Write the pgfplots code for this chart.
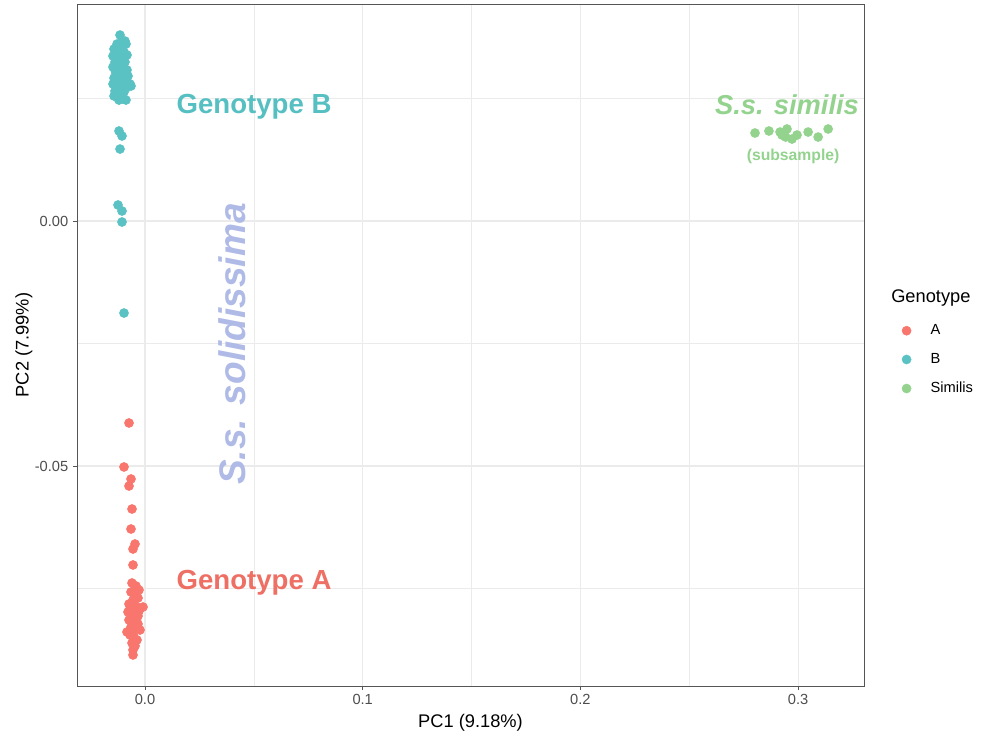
\documentclass[border=0pt]{standalone}
\usepackage{pgfplots}
\pgfplotsset{compat=1.18}
\usepackage{fontspec}
\setmainfont{Liberation Sans}
\definecolor{colA}{HTML}{F8766D}
\definecolor{colB}{HTML}{5BC2C4}
\definecolor{colS}{HTML}{93D38E}
\definecolor{colSol}{HTML}{AFBAE6}
\definecolor{txtA}{HTML}{EE6F64}
\definecolor{txtB}{HTML}{55BFC1}
\definecolor{gridgray}{HTML}{EBEBEB}
\definecolor{bordergray}{HTML}{555555}
\definecolor{ticklab}{HTML}{4D4D4D}
\begin{document}
\begin{tikzpicture}
\path[use as bounding box] (0,0) rectangle (737.25pt,549pt);
\begin{axis}[
  at={(57.75pt,34.5pt)}, anchor=south west,
  scale only axis, width=590.25pt, height=511.5pt,
  xmin=-0.03124, xmax=0.33027, ymin=-0.0949, ymax=0.04429,
  xtick={0,0.1,0.2,0.3}, xticklabels={0.0,0.1,0.2,0.3},
  ytick={-0.05,0}, yticklabels={{-0.05},{0.00}},
  minor xtick={0.05,0.15,0.25}, minor ytick={-0.075,-0.025,0.025},
  grid=both,
  major grid style={color=gridgray, line width=0.8pt},
  minor grid style={color=gridgray, line width=0.45pt},
  axis line style={color=bordergray, line width=0.6pt},
  tick align=outside, xtick pos=bottom, ytick pos=left,
  major tick length=3pt, minor tick length=0pt,
  tick style={color=bordergray, line width=0.6pt},
  tick label style={font=\fontsize{11}{13}\selectfont, text=ticklab},
  xlabel={PC1 (9.18\%)}, ylabel={PC2 (7.99\%)},
  label style={font=\fontsize{13.7}{16}\selectfont},
  ylabel style={yshift=-5pt},
  legend image code/.code={\path (0pt,0pt) (22.75pt,0pt); \draw[#1] plot coordinates {(7pt,0pt)};},
  legend style={at={(axis description cs:1.0365,0.538)}, anchor=north west, draw=none, fill=none,
    font=\fontsize{11}{13}\selectfont, row sep=8.5pt},
  legend cell align=left,
]
\addplot[only marks, mark=*, mark size=3.4pt, color=colA, mark options={fill=colA, draw=colA}] coordinates {
(-0.00735,-0.04122) (-0.00965,-0.05020) (-0.00643,-0.05265) (-0.00735,-0.05408)
(-0.00597,-0.05878) (-0.00643,-0.06286) (-0.00459,-0.06592) (-0.00551,-0.06694)
(-0.00551,-0.07020) (-0.00597,-0.07388) (-0.00413,-0.07449) (-0.00276,-0.07531)
(-0.00643,-0.07571) (-0.00459,-0.07633) (-0.00322,-0.07694) (-0.00551,-0.07735)
(-0.00735,-0.07816) (-0.00505,-0.07816) (-0.00367,-0.07878) (-0.00092,-0.07878)
(-0.00689,-0.07918) (-0.00459,-0.07980) (-0.00276,-0.07959) (-0.00597,-0.08041)
(-0.00413,-0.08102) (-0.00735,-0.08143) (-0.00505,-0.08184) (-0.00322,-0.08224)
(-0.00643,-0.08286) (-0.00459,-0.08327) (-0.00827,-0.08388) (-0.00230,-0.08347)
(-0.00689,-0.08449) (-0.00505,-0.08490) (-0.00367,-0.08551) (-0.00597,-0.08612)
(-0.00459,-0.08673) (-0.00551,-0.08755) (-0.00551,-0.08857) (-0.00781,-0.07980)
(-0.00322,-0.08061)
};
\addlegendentry{A}
\addplot[only marks, mark=*, mark size=3.4pt, color=colB, mark options={fill=colB, draw=colB}] coordinates {
(-0.01148,0.03796) (-0.00919,0.03673) (-0.01286,0.03612) (-0.01102,0.03551)
(-0.01424,0.03510) (-0.01194,0.03449) (-0.00965,0.03449) (-0.01470,0.03367)
(-0.01240,0.03327) (-0.01057,0.03327) (-0.00873,0.03612) (-0.01378,0.03245)
(-0.01148,0.03224) (-0.00919,0.03245) (-0.01470,0.03143) (-0.01240,0.03102)
(-0.01011,0.03122) (-0.00827,0.03082) (-0.01332,0.03020) (-0.01102,0.02980)
(-0.01424,0.02918) (-0.01194,0.02878) (-0.00965,0.02918) (-0.00781,0.02959)
(-0.01470,0.02796) (-0.01286,0.02755) (-0.01057,0.02776) (-0.00873,0.02714)
(-0.01378,0.02653) (-0.01148,0.02612) (-0.00965,0.02633) (-0.00689,0.02796)
(-0.00643,0.02755) (-0.01424,0.02551) (-0.01240,0.02510) (-0.01011,0.02490)
(-0.00873,0.02469) (-0.01194,0.02469) (-0.01332,0.02878) (-0.01102,0.03163)
(-0.01286,0.03490) (-0.00827,0.03388) (-0.01057,0.03673) (-0.01378,0.03082)
(-0.00919,0.02816)
(-0.01194,0.01837) (-0.01057,0.01735) (-0.01148,0.01469) (-0.01240,0.00327)
(-0.01057,0.00204) (-0.01057,-0.00020) (-0.00965,-0.01878)
};
\addlegendentry{B}
\addplot[only marks, mark=*, mark size=3.4pt, color=colS, mark options={fill=colS, draw=colS}] coordinates {
(0.2802,0.01796) (0.2866,0.01837) (0.2917,0.01816) (0.2949,0.01878)
(0.2943,0.01714) (0.2972,0.01673) (0.2995,0.01755) (0.3046,0.01816)
(0.3092,0.01714) (0.3138,0.01878) (0.2926,0.01755)
};
\addlegendentry{Similis}
\node[font=\fontsize{20.7}{24}\selectfont\bfseries, text=txtB] at (axis cs:0.0501,0.0233) {Genotype B};
\node[font=\fontsize{20.7}{24}\selectfont\bfseries, text=txtA] at (axis cs:0.0501,-0.0739) {Genotype A};
\node[font=\fontsize{27.8}{32}\selectfont\bfseries\itshape, text=colSol, rotate=90] at (axis cs:0.0400,-0.0251) {S.s. solidissima};
\node[font=\fontsize{20.5}{24}\selectfont\bfseries\itshape, text=colS] at (axis cs:0.2949,0.0237) {S.s. similis};
\node[font=\fontsize{11.8}{14}\selectfont\bfseries, text=colS] at (axis cs:0.2977,0.0131) {(subsample)};
\end{axis}
\node[anchor=west, font=\fontsize{13.7}{16}\selectfont, inner sep=0pt] at (668.25pt,325.5pt) {Genotype};
\end{tikzpicture}
\end{document}
